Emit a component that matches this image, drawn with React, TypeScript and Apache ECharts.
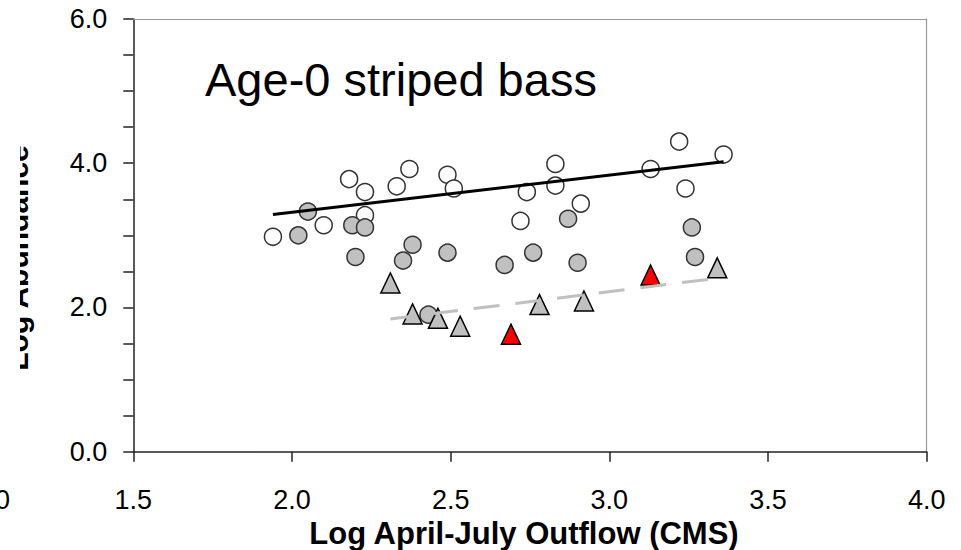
import React, { useEffect, useRef } from "react";
import * as echarts from "echarts";

// Open circles
const openX = [1.94, 2.10, 2.18, 2.23, 2.23, 2.33, 2.37, 2.49, 2.51, 2.72, 2.74, 2.83, 2.83, 2.91, 3.13, 3.22, 3.24, 3.36];
const openY = [2.98, 3.14, 3.78, 3.60, 3.28, 3.68, 3.92, 3.84, 3.65, 3.20, 3.60, 3.99, 3.69, 3.44, 3.92, 4.30, 3.65, 4.12];
// Gray circles
const grayX = [2.02, 2.05, 2.19, 2.23, 2.20, 2.35, 2.38, 2.43, 2.49, 2.67, 2.76, 2.87, 2.90, 3.26, 3.27];
const grayY = [3.00, 3.33, 3.14, 3.11, 2.70, 2.65, 2.87, 1.90, 2.76, 2.59, 2.76, 3.23, 2.62, 3.11, 2.70];
// Gray triangles
const triX = [2.31, 2.38, 2.46, 2.53, 2.78, 2.92, 3.34];
const triY = [2.34, 1.91, 1.85, 1.74, 2.04, 2.09, 2.55];
// Red triangles
const redX = [2.69, 3.13];
const redY = [1.63, 2.45];
// Fitted lines
const fitBlackX = [1.94, 3.36];
const fitBlackY = [3.29, 4.02];
const fitGrayX = [2.31, 3.33];
const fitGrayY = [1.84, 2.40];

const titleText = "Age-0 striped bass";
const xName = "Log April-July Outflow (CMS)";
const yName = "Log Abundance";

const FONT = "'Liberation Sans', Arial, sans-serif";

const zip = (xs: number[], ys: number[]) => xs.map((x, i) => [x, ys[i]]);

export default function App() {
  const ref = useRef<HTMLDivElement>(null);
  useEffect(() => {
    if (!ref.current) return;
    const chart = echarts.init(ref.current, undefined, { renderer: "svg" });
    const axisColor = "#222";
    chart.setOption({
      animation: false,
      backgroundColor: "#fff",
      grid: { left: 133.3, right: 34.3, top: 19, bottom: 98.3 },
      xAxis: [
        {
          type: "value",
          min: 1.5,
          max: 4.0,
          interval: 0.5,
          splitLine: { show: false },
          axisLine: { show: true, onZero: false, lineStyle: { color: axisColor, width: 1.5 } },
          axisTick: { show: true, inside: false, length: 10, lineStyle: { color: axisColor, width: 1.5 } },
          axisLabel: {
            color: "#000",
            fontFamily: FONT,
            fontSize: 27,
            margin: 48,
            verticalAlign: "middle",
            formatter: (v: number) => v.toFixed(1),
          },
        },
        {
          type: "value",
          position: "top",
          min: 1.5,
          max: 4.0,
          interval: 0.5,
          splitLine: { show: false },
          axisLine: { show: true, onZero: false, lineStyle: { color: "#999", width: 1.2 } },
          axisTick: { show: false },
          axisLabel: { show: false },
        },
      ],
      yAxis: [
        {
          type: "value",
          min: 0,
          max: 6,
          interval: 0.5,
          splitLine: { show: false },
          axisLine: { show: true, onZero: false, lineStyle: { color: axisColor, width: 1.5 } },
          axisTick: { show: true, inside: false, length: 10, lineStyle: { color: axisColor, width: 1.5 } },
          axisLabel: {
            color: "#000",
            fontFamily: FONT,
            fontSize: 27,
            margin: 26,
            padding: [6, 0, 0, 0],
            formatter: (v: number) => (Math.abs(v % 2) < 1e-9 ? v.toFixed(1) : ""),
          },
        },
        {
          type: "value",
          position: "right",
          min: 0,
          max: 6,
          interval: 0.5,
          splitLine: { show: false },
          axisLine: { show: true, onZero: false, lineStyle: { color: "#999", width: 1.2 } },
          axisTick: { show: false },
          axisLabel: { show: false },
        },
      ],
      graphic: [
        {
          type: "text",
          x: 205,
          y: 79,
          style: {
            text: titleText,
            fontFamily: FONT,
            fontSize: 47,
            fill: "#000",
            align: "left",
            verticalAlign: "middle",
          },
        },
        {
          type: "text",
          x: 524,
          y: 533,
          style: {
            text: xName,
            fontFamily: FONT,
            fontSize: 31,
            fontWeight: "bold",
            fill: "#000",
            align: "center",
            verticalAlign: "middle",
          },
        },
        {
          type: "text",
          x: 17,
          y: 258,
          rotation: Math.PI / 2,
          style: {
            text: yName,
            fontFamily: FONT,
            fontSize: 30,
            fontWeight: "bold",
            fill: "#000",
            align: "center",
            verticalAlign: "middle",
          },
          z: 10,
        },
        {
          type: "rect",
          shape: { x: 0, y: 100, width: 20, height: 330 },
          style: { fill: "#fff" },
          z: 20,
        },
        {
          type: "text",
          x: 10,
          y: 499.5,
          style: {
            text: "1.0",
            fontFamily: FONT,
            fontSize: 27,
            fill: "#000",
            align: "right",
            verticalAlign: "middle",
          },
        },
      ],
      series: [
        {
          type: "scatter",
          symbol: "circle",
          symbolSize: 17,
          data: zip(openX, openY),
          itemStyle: { color: "#fff", borderColor: "#333", borderWidth: 1.5, opacity: 1 },
          z: 2,
        },
        {
          type: "scatter",
          symbol: "circle",
          symbolSize: 17,
          data: zip(grayX, grayY),
          itemStyle: { color: "#c0c0c0", borderColor: "#333", borderWidth: 1.5, opacity: 1 },
          z: 3,
        },
        {
          type: "scatter",
          symbol: "triangle",
          symbolSize: [19, 20],
          data: zip(triX, triY),
          itemStyle: { color: "#c0c0c0", borderColor: "#000", borderWidth: 1.5, opacity: 1 },
          z: 4,
        },
        {
          type: "scatter",
          symbol: "triangle",
          symbolSize: [19, 20],
          data: zip(redX, redY),
          itemStyle: { color: "#ff0000", borderColor: "#000", borderWidth: 1.5, opacity: 1 },
          z: 4,
        },
        {
          type: "line",
          data: zip(fitBlackX, fitBlackY),
          showSymbol: false,
          symbol: "none",
          lineStyle: { color: "#000", width: 3 },
          z: 5,
        },
        {
          type: "line",
          data: zip(fitGrayX, fitGrayY),
          showSymbol: false,
          symbol: "none",
          lineStyle: { color: "#c0c0c0", width: 3, type: [26, 16] },
          z: 5,
        },
      ],
    });
    return () => chart.dispose();
  }, []);
  return (
    <div
      ref={ref}
      style={{ position: "fixed", left: 0, top: 0, width: 961, height: 550 }}
    />
  );
}
